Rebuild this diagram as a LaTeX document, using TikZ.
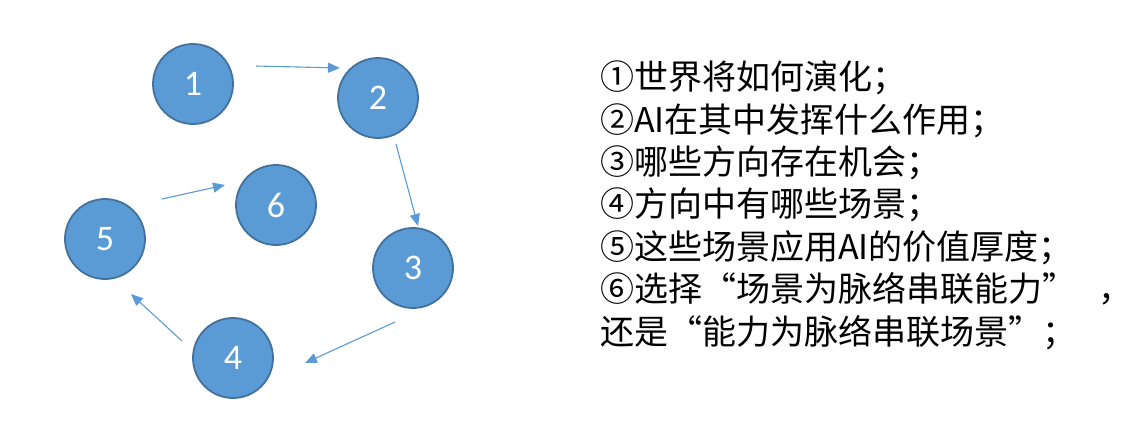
\documentclass[tikz,border=0pt]{standalone}
\usepackage{fontspec}
\setmainfont{Carlito}
\newfontfamily\cjk{Noto Sans CJK SC}
\newfontfamily\digitfont{Carlito}
\usetikzlibrary{arrows.meta}
\definecolor{cfill}{HTML}{5B9BD5}
\definecolor{cedge}{HTML}{41719C}
\definecolor{aline}{HTML}{5B9BD5}
\newcommand\myquoL{\makebox[34pt][r]{“}}
\newcommand\myquoR{\makebox[34pt][l]{”}}
\tikzset{
  ball/.style={circle, minimum size=80pt, inner sep=0pt, fill=cfill, draw=cedge, line width=1.8pt,
    text=white, font=\digitfont\fontsize{36}{36}\selectfont},
  flow/.style={draw=aline, line width=1.1pt, -{Triangle[length=12pt,width=10pt]}},
  txt/.style={anchor=base west, inner sep=0pt, font=\cjk\fontsize{34}{40}\selectfont}
}
\begin{document}
\begin{tikzpicture}[x=1pt,y=-1pt]
\useasboundingbox (0,0) rectangle (1144,429);
\node[ball] (n1) at (193,84) {1};
\node[ball] (n2) at (378,98) {2};
\node[ball] (n3) at (413,268) {3};
\node[ball] (n4) at (233,358) {4};
\node[ball] (n5) at (105,239) {5};
\node[ball] (n6) at (276,205) {6};
\coordinate (a1s) at (256,66);
\coordinate (a1e) at (340,68);
\coordinate (a2s) at (396,144);
\coordinate (a2e) at (418,226);
\coordinate (a3s) at (395,322);
\coordinate (a3e) at (305,363);
\coordinate (a4s) at (182,341);
\coordinate (a4e) at (131,294);
\coordinate (a5s) at (162,199);
\coordinate (a5e) at (225,185);
\draw[flow] (a1s) -- (a1e);
\draw[flow] (a2s) -- (a2e);
\draw[flow] (a3s) -- (a3e);
\draw[flow] (a4s) -- (a4e);
\draw[flow] (a5s) -- (a5e);
\node[txt] (l1) at (600,89) {①世界将如何演化；};
\node[txt] (l2) at (600,132) {②AI在其中发挥什么作用；};
\node[txt] (l3) at (600,174) {③哪些方向存在机会；};
\node[txt] (l4) at (600,216) {④方向中有哪些场景；};
\node[txt] (l5) at (600,259) {⑤这些场景应用AI的价值厚度；};
\node[txt] (l6) at (600,301) {⑥选择\myquoL 场景为脉络串联能力\myquoR\hspace{22pt}，};
\node[txt] (l7) at (600,344) {还是\myquoL 能力为脉络串联场景\myquoR ；};
\end{tikzpicture}
\end{document}
